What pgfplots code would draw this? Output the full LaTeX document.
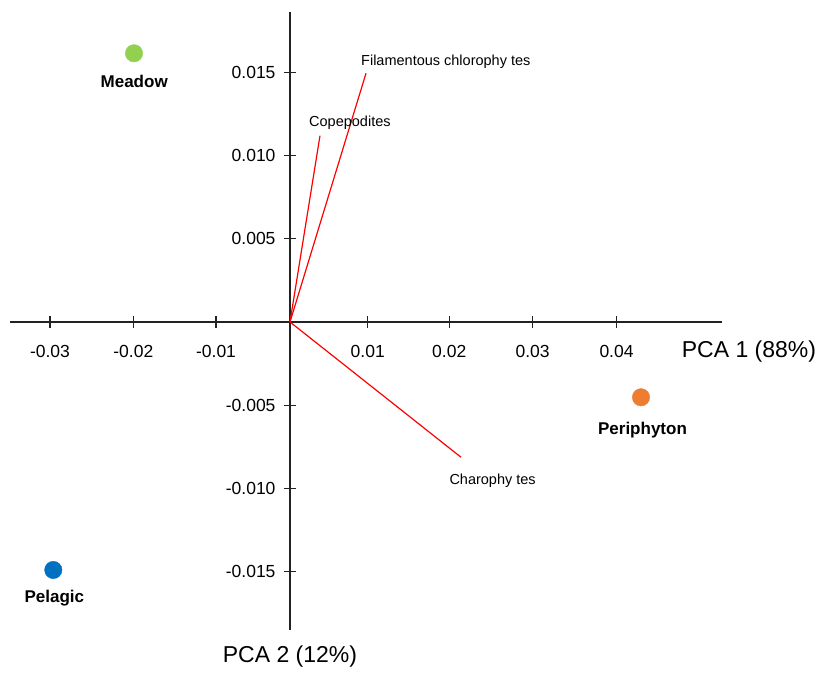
\documentclass[border=0pt]{standalone}
\usepackage{pgfplots}
\pgfplotsset{compat=1.18}
\usepackage{fontspec}
\setmainfont{Liberation Sans}
\definecolor{meadow}{HTML}{92D050}
\definecolor{pelagic}{HTML}{0070C0}
\definecolor{periph}{HTML}{ED7D31}
\definecolor{axisgray}{HTML}{222222}
\begin{document}
\begin{tikzpicture}
\begin{axis}[
  scale only axis, width=712pt, height=618pt,
  xmin=-0.03361, xmax=0.05186, ymin=-0.01851, ymax=0.01863,
  axis lines=middle, axis line style={-, axisgray, line width=1.6pt},
  clip=false, scaled ticks=false,
  xtick={-0.02881,-0.01881,-0.00888,0.00933,0.01912,0.02912,0.03920},
  xticklabels={-0.03,-0.02,-0.01,0.01,0.02,0.03,0.04},
  ytick={-0.015,-0.010,-0.005,0.005,0.010,0.015},
  yticklabels={-0.015,-0.010,-0.005,0.005,0.010,0.015},
  major tick length=12pt, tick align=center,
  tick style={axisgray, line width=1.1pt},
  xticklabel style={font=\fontsize{17.5}{20}\selectfont, anchor=north, yshift=-14pt},
  yticklabel style={font=\fontsize{17.5}{20}\selectfont, anchor=east, xshift=-5pt},
]
\path (axis cs:-0.034814,0.019351) rectangle (axis cs:0.063986,-0.021094);
% loading vectors
\addplot[red, line width=1.2pt] coordinates {(0,0) (0.009124,0.014946)};
\addplot[red, line width=1.2pt] coordinates {(0,0) (0.0036,0.011196)};
\addplot[red, line width=1.2pt] coordinates {(0,0) (0.02053,-0.00813)};
% sites
\addplot[only marks, mark=*, mark size=8.7pt, color=meadow] coordinates {(-0.018727,0.016148)};
\addplot[only marks, mark=*, mark size=8.7pt, color=pelagic] coordinates {(-0.028415,-0.014904)};
\addplot[only marks, mark=*, mark size=8.7pt, color=periph] coordinates {(0.042137,-0.004525)};
% labels
\node[anchor=west, inner sep=0pt, font=\fontsize{14.5}{16}\selectfont] at (axis cs:0.008523,0.015625) {Filamentous chlorophy tes};
\node[anchor=west, inner sep=0pt, font=\fontsize{14.5}{16}\selectfont] at (axis cs:0.002281,0.011977) {Copepodites};
\node[anchor=west, inner sep=0pt, font=\fontsize{14.5}{16}\selectfont] at (axis cs:0.019124,-0.009555) {Charophy tes};
\node[inner sep=0pt, font=\fontsize{17}{19}\selectfont\bfseries] at (axis cs:-0.018703,0.014483) {Meadow};
\node[inner sep=0pt, font=\fontsize{17}{19}\selectfont\bfseries] at (axis cs:-0.028295,-0.016605) {Pelagic};
\node[inner sep=0pt, font=\fontsize{17}{19}\selectfont\bfseries] at (axis cs:0.042317,-0.006490) {Periphyton};
\node[anchor=west, inner sep=0pt, font=\fontsize{23}{26}\selectfont] at (axis cs:0.047023,-0.001785) {PCA 1 (88\%)};
\node[inner sep=0pt, font=\fontsize{23}{26}\selectfont] at (axis cs:0,-0.020132) {PCA 2 (12\%)};
\end{axis}
\end{tikzpicture}
\end{document}
